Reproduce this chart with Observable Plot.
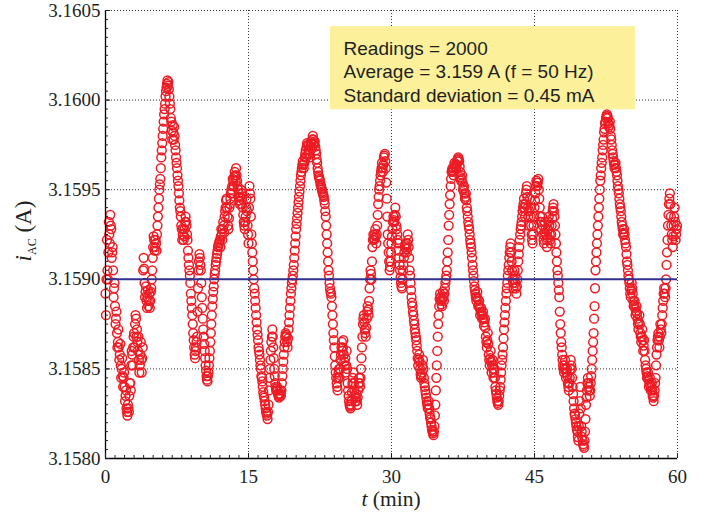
<!DOCTYPE html>
<html><head><meta charset="utf-8">
<script src="https://cdn.jsdelivr.net/npm/d3@7"></script>
<script src="https://cdn.jsdelivr.net/npm/@observablehq/plot@0.6"></script>
<style>body{margin:0;background:#fff} svg{display:block}</style>
</head><body><div id="chart"></div>
<script>
// Readings (A).
// currentA: readings at t = 0.0, 0.1, 0.2 ... min; currentB: readings at t = 0.05, 0.15, 0.25 ... min
const sampleStep = 0.1;
const currentA = [
3.15892,3.15900,3.15905,3.15915,3.15925,3.15936,3.15928,3.15915,3.15905,3.15895,
3.15885,3.15878,3.15870,3.15865,3.15862,3.15858,3.15852,3.15850,3.15846,3.15845,
3.15840,3.15835,3.15828,3.15824,3.15828,3.15835,3.15842,3.15852,3.15858,3.15862,
3.15870,3.15875,3.15878,3.15872,3.15860,3.15855,3.15852,3.15865,3.15848,3.15862,
3.15912,3.15898,3.15893,3.15888,3.15890,3.15885,3.15892,3.15888,3.15895,3.15905,
3.15918,3.15922,3.15918,3.15920,3.15925,3.15935,3.15945,3.15953,3.15962,3.15972,
3.15980,3.15988,3.15995,3.16002,3.16007,3.16011,3.16010,3.16002,3.15995,3.15988,
3.15978,3.15982,3.15985,3.15975,3.15968,3.15962,3.15955,3.15948,3.15940,3.15935,
3.15928,3.15925,3.15922,3.15928,3.15935,3.15930,3.15922,3.15912,3.15905,3.15898,
3.15888,3.15880,3.15870,3.15862,3.15856,3.15862,3.15868,3.15895,3.15910,3.15912,
3.15905,3.15890,3.15878,3.15868,3.15860,3.15852,3.15846,3.15843,3.15848,3.15856,
3.15865,3.15875,3.15885,3.15893,3.15900,3.15905,3.15910,3.15914,3.15918,3.15920,
3.15922,3.15924,3.15925,3.15928,3.15930,3.15935,3.15940,3.15945,3.15935,3.15928,
3.15940,3.15945,3.15950,3.15952,3.15955,3.15957,3.15958,3.15962,3.15955,3.15950,
3.15948,3.15942,3.15950,3.15945,3.15940,3.15932,3.15928,3.15935,3.15945,3.15930,
3.15920,3.15952,3.15945,3.15925,3.15915,3.15905,3.15895,3.15888,3.15880,3.15872,
3.15866,3.15860,3.15855,3.15850,3.15845,3.15840,3.15835,3.15832,3.15828,3.15825,
3.15822,3.15830,3.15845,3.15855,3.15865,3.15872,3.15862,3.15850,3.15842,3.15838,
3.15840,3.15836,3.15834,3.15838,3.15835,3.15842,3.15850,3.15858,3.15865,3.15870,
3.15868,3.15862,3.15872,3.15880,3.15888,3.15895,3.15900,3.15905,3.15912,3.15920,
3.15928,3.15934,3.15940,3.15946,3.15952,3.15958,3.15962,3.15966,3.15962,3.15968,
3.15972,3.15974,3.15975,3.15972,3.15970,3.15974,3.15976,3.15978,3.15978,3.15976,
3.15974,3.15970,3.15965,3.15960,3.15957,3.15955,3.15952,3.15950,3.15948,3.15946,
3.15942,3.15935,3.15925,3.15915,3.15905,3.15898,3.15893,3.15890,3.15880,3.15870,
3.15862,3.15852,3.15845,3.15840,3.15845,3.15850,3.15850,3.15858,3.15865,3.15862,
3.15858,3.15852,3.15848,3.15860,3.15842,3.15835,3.15830,3.15828,3.15832,3.15842,
3.15848,3.15838,3.15832,3.15836,3.15830,3.15838,3.15845,3.15840,3.15850,3.15862,
3.15875,3.15880,3.15872,3.15868,3.15878,3.15885,3.15880,3.15895,3.15905,3.15900,
3.15918,3.15925,3.15922,3.15928,3.15920,3.15930,3.15942,3.15950,3.15955,3.15960,
3.15965,3.15960,3.15968,3.15970,3.15962,3.15945,3.15925,3.15915,3.15905,3.15910,
3.15920,3.15928,3.15935,3.15932,3.15940,3.15930,3.15925,3.15920,3.15912,3.15905,
3.15898,3.15895,3.15905,3.15912,3.15918,3.15920,3.15915,3.15925,3.15918,3.15905,
3.15898,3.15890,3.15885,3.15880,3.15875,3.15870,3.15866,3.15860,3.15852,3.15858,
3.15850,3.15845,3.15848,3.15855,3.15845,3.15840,3.15836,3.15832,3.15828,3.15832,
3.15825,3.15822,3.15818,3.15815,3.15813,3.15818,3.15830,3.15845,3.15860,3.15875,
3.15885,3.15892,3.15888,3.15885,3.15893,3.15888,3.15895,3.15900,3.15905,3.15915,
3.15930,3.15942,3.15952,3.15960,3.15962,3.15958,3.15965,3.15963,3.15962,3.15966,
3.15968,3.15966,3.15960,3.15955,3.15958,3.15950,3.15952,3.15945,3.15948,3.15940,
3.15935,3.15930,3.15925,3.15920,3.15915,3.15908,3.15902,3.15896,3.15892,3.15888,
3.15893,3.15885,3.15888,3.15880,3.15884,3.15878,3.15882,3.15874,3.15878,3.15868,
3.15862,3.15870,3.15858,3.15852,3.15860,3.15848,3.15855,3.15845,3.15850,3.15840,
3.15836,3.15832,3.15830,3.15835,3.15840,3.15848,3.15855,3.15862,3.15872,3.15880,
3.15888,3.15895,3.15902,3.15908,3.15915,3.15920,3.15910,3.15900,3.15895,3.15905,
3.15898,3.15892,3.15900,3.15910,3.15918,3.15925,3.15930,3.15935,3.15940,3.15945,
3.15935,3.15948,3.15952,3.15940,3.15930,3.15945,3.15935,3.15925,3.15920,3.15930,
3.15940,3.15948,3.15955,3.15952,3.15956,3.15945,3.15935,3.15928,3.15935,3.15925,
3.15920,3.15932,3.15925,3.15918,3.15928,3.15935,3.15925,3.15920,3.15930,3.15938,
3.15942,3.15935,3.15925,3.15915,3.15905,3.15898,3.15890,3.15875,3.15865,3.15858,
3.15852,3.15848,3.15855,3.15845,3.15850,3.15842,3.15838,3.15845,3.15855,3.15850,
3.15840,3.15832,3.15825,3.15822,3.15818,3.15815,3.15810,3.15825,3.15840,3.15818,
3.15812,3.15808,3.15806,3.15815,3.15830,3.15838,3.15845,3.15840,3.15835,3.15842,
3.15850,3.15860,3.15870,3.15885,3.15905,3.15915,3.15925,3.15935,3.15945,3.15955,
3.15962,3.15968,3.15975,3.15982,3.15987,3.15990,3.15992,3.15990,3.15985,3.15988,
3.15980,3.15975,3.15970,3.15966,3.15962,3.15965,3.15960,3.15955,3.15950,3.15945,
3.15940,3.15935,3.15930,3.15925,3.15928,3.15922,3.15918,3.15910,3.15905,3.15900,
3.15895,3.15890,3.15898,3.15892,3.15885,3.15888,3.15880,3.15885,3.15878,3.15872,
3.15880,3.15870,3.15865,3.15872,3.15860,3.15866,3.15855,3.15850,3.15845,3.15848,
3.15840,3.15845,3.15838,3.15842,3.15835,3.15832,3.15838,3.15845,3.15858,3.15866,
3.15870,3.15862,3.15875,3.15870,3.15880,3.15888,3.15895,3.15890,3.15900,3.15915,
3.15930,3.15942,3.15948,3.15935,3.15925,3.15918,3.15930,3.15940,3.15922,3.15928
];
const currentB = [
3.15880,3.15922,3.15900,3.15932,3.15920,3.15930,3.15912,3.15918,3.15890,3.15898,
3.15875,3.15882,3.15862,3.15872,3.15855,3.15864,3.15845,3.15856,3.15840,3.15848,
3.15832,3.15838,3.15826,3.15830,3.15826,3.15842,3.15838,3.15860,3.15852,3.15868,
3.15862,3.15880,3.15868,3.15865,3.15868,3.15848,3.15858,3.15855,3.15856,3.15905,
3.15906,3.15890,3.15896,3.15884,3.15894,3.15888,3.15884,3.15893,3.15900,3.15912,
3.15924,3.15916,3.15922,3.15916,3.15930,3.15940,3.15950,3.15956,3.15968,3.15976,
3.15984,3.15992,3.15998,3.16005,3.16009,3.16008,3.16006,3.15998,3.15990,3.15983,
3.15986,3.15978,3.15980,3.15972,3.15965,3.15958,3.15952,3.15944,3.15938,3.15930,
3.15922,3.15928,3.15924,3.15932,3.15932,3.15925,3.15916,3.15908,3.15902,3.15892,
3.15884,3.15875,3.15866,3.15858,3.15860,3.15865,3.15882,3.15905,3.15914,3.15908,
3.15898,3.15884,3.15872,3.15864,3.15856,3.15849,3.15844,3.15846,3.15852,3.15860,
3.15870,3.15880,3.15889,3.15896,3.15903,3.15908,3.15912,3.15916,3.15919,3.15921,
3.15918,3.15928,3.15922,3.15932,3.15926,3.15938,3.15944,3.15940,3.15930,3.15934,
3.15942,3.15948,3.15948,3.15956,3.15952,3.15960,3.15955,3.15958,3.15952,3.15946,
3.15944,3.15946,3.15942,3.15948,3.15936,3.15930,3.15932,3.15940,3.15938,3.15925,
3.15940,3.15948,3.15935,3.15920,3.15910,3.15900,3.15892,3.15884,3.15876,3.15869,
3.15862,3.15858,3.15852,3.15846,3.15843,3.15837,3.15834,3.15830,3.15826,3.15824,
3.15826,3.15838,3.15850,3.15860,3.15868,3.15868,3.15856,3.15846,3.15840,3.15839,
3.15838,3.15835,3.15836,3.15836,3.15838,3.15846,3.15854,3.15862,3.15868,3.15869,
3.15865,3.15867,3.15876,3.15884,3.15892,3.15898,3.15902,3.15908,3.15916,3.15924,
3.15931,3.15937,3.15943,3.15949,3.15955,3.15960,3.15964,3.15964,3.15965,3.15970,
3.15968,3.15976,3.15970,3.15975,3.15968,3.15977,3.15973,3.15980,3.15975,3.15977,
3.15972,3.15967,3.15962,3.15958,3.15956,3.15953,3.15951,3.15949,3.15947,3.15944,
3.15938,3.15930,3.15920,3.15910,3.15902,3.15895,3.15892,3.15885,3.15875,3.15866,
3.15857,3.15848,3.15842,3.15838,3.15848,3.15845,3.15855,3.15862,3.15860,3.15866,
3.15854,3.15856,3.15852,3.15850,3.15838,3.15832,3.15829,3.15830,3.15837,3.15845,
3.15842,3.15835,3.15834,3.15832,3.15834,3.15842,3.15842,3.15845,3.15856,3.15868,
3.15878,3.15876,3.15870,3.15873,3.15882,3.15883,3.15888,3.15900,3.15903,3.15910,
3.15922,3.15923,3.15925,3.15924,3.15925,3.15936,3.15946,3.15952,3.15958,3.15962,
3.15962,3.15964,3.15969,3.15966,3.15954,3.15935,3.15920,3.15910,3.15907,3.15915,
3.15924,3.15932,3.15933,3.15936,3.15935,3.15928,3.15922,3.15916,3.15908,3.15901,
3.15896,3.15900,3.15908,3.15915,3.15919,3.15917,3.15920,3.15922,3.15912,3.15902,
3.15894,3.15887,3.15882,3.15877,3.15872,3.15868,3.15863,3.15856,3.15855,3.15854,
3.15847,3.15846,3.15852,3.15850,3.15842,3.15838,3.15834,3.15830,3.15830,3.15828,
3.15823,3.15820,3.15816,3.15814,3.15815,3.15824,3.15838,3.15852,3.15868,3.15880,
3.15889,3.15890,3.15886,3.15889,3.15890,3.15892,3.15898,3.15902,3.15910,3.15922,
3.15936,3.15947,3.15956,3.15961,3.15960,3.15962,3.15964,3.15962,3.15964,3.15967,
3.15967,3.15963,3.15957,3.15956,3.15954,3.15951,3.15948,3.15946,3.15944,3.15938,
3.15932,3.15928,3.15922,3.15918,3.15912,3.15905,3.15899,3.15894,3.15890,3.15890,
3.15889,3.15886,3.15884,3.15882,3.15881,3.15880,3.15878,3.15876,3.15873,3.15865,
3.15866,3.15864,3.15855,3.15856,3.15854,3.15852,3.15850,3.15848,3.15845,3.15838,
3.15834,3.15831,3.15832,3.15838,3.15844,3.15852,3.15858,3.15867,3.15876,3.15884,
3.15892,3.15898,3.15905,3.15912,3.15918,3.15915,3.15905,3.15898,3.15900,3.15902,
3.15895,3.15896,3.15905,3.15914,3.15922,3.15928,3.15932,3.15938,3.15942,3.15940,
3.15942,3.15950,3.15946,3.15935,3.15938,3.15940,3.15930,3.15922,3.15925,3.15935,
3.15944,3.15952,3.15954,3.15954,3.15950,3.15940,3.15932,3.15932,3.15930,3.15922,
3.15926,3.15928,3.15922,3.15923,3.15932,3.15930,3.15922,3.15925,3.15934,3.15940,
3.15938,3.15930,3.15920,3.15910,3.15902,3.15894,3.15882,3.15870,3.15862,3.15855,
3.15850,3.15852,3.15850,3.15848,3.15846,3.15840,3.15842,3.15850,3.15852,3.15845,
3.15836,3.15828,3.15824,3.15820,3.15816,3.15812,3.15818,3.15832,3.15828,3.15815,
3.15810,3.15807,3.15810,3.15822,3.15834,3.15842,3.15842,3.15838,3.15838,3.15846,
3.15855,3.15865,3.15878,3.15895,3.15910,3.15920,3.15930,3.15940,3.15950,3.15958,
3.15965,3.15972,3.15978,3.15984,3.15988,3.15991,3.15991,3.15987,3.15986,3.15984,
3.15978,3.15972,3.15968,3.15964,3.15964,3.15962,3.15958,3.15952,3.15948,3.15942,
3.15938,3.15932,3.15928,3.15926,3.15925,3.15920,3.15914,3.15908,3.15902,3.15898,
3.15892,3.15894,3.15895,3.15888,3.15886,3.15884,3.15882,3.15881,3.15875,3.15876,
3.15875,3.15868,3.15868,3.15866,3.15863,3.15860,3.15852,3.15848,3.15846,3.15844,
3.15842,3.15841,3.15840,3.15838,3.15834,3.15835,3.15842,3.15852,3.15862,3.15868,
3.15866,3.15868,3.15872,3.15875,3.15884,3.15892,3.15892,3.15895,3.15908,3.15922,
3.15936,3.15945,3.15942,3.15930,3.15922,3.15924,3.15935,3.15932,3.15925,3.15930
];
const meanCurrent = 3.1590;
const xMajorTicks = [0, 15, 30, 45, 60];
const yMajorTicks = [3.1580, 3.1585, 3.1590, 3.1595, 3.1600, 3.1605];
const boxLines = ["Readings = 2000", "Average = 3.159 A (f = 50 Hz)", "Standard deviation = 0.45 mA"];

const readings = [
  ...currentA.map((v, k) => ({t: k * sampleStep, i: v})),
  ...currentB.map((v, k) => ({t: k * sampleStep + sampleStep / 2, i: v}))
].sort((a, b) => a.t - b.t);
const xMinor = d3.range(0, 61, 1);
const yMinor = d3.range(0, 51).map(k => 3.1580 + k * 0.00005);
const gridX = xMajorTicks.slice(1);
const gridY = yMajorTicks.filter(v => v !== 3.1580 && v !== meanCurrent);

const serif = "'Liberation Serif','Times New Roman',serif";
const dotted = {stroke: "#333", strokeWidth: 1, strokeDasharray: "1,2"};

const plot = Plot.plot({
  width: 709, height: 513,
  marginLeft: 105, marginRight: 32, marginTop: 10, marginBottom: 55,
  x: {domain: [0, 60]},
  y: {domain: [3.1580, 3.1605]},
  style: {fontFamily: serif, fontSize: "19px", color: "#231f20", background: "#fff"},
  marks: [
    Plot.ruleX(gridX, dotted),
    Plot.ruleY(gridY, dotted),
    Plot.rect([0], {x1: () => 23.6, x2: () => 55.6, y1: () => 3.159946, y2: () => 3.16041, fill: "#fcf09b"}),
    Plot.text([boxLines.join("\n")], {
      x: () => 24.97, y: () => 3.160346, text: d => d,
      textAnchor: "start", lineAnchor: "top", lineHeight: 1.237,
      fontFamily: "'Liberation Sans',Arial,sans-serif", fontSize: 19, fill: "#231f20"
    }),
    Plot.dot(readings, {x: "t", y: "i", r: 4.4, stroke: "#ed1c24", strokeWidth: 1.5, fill: "none"}),
    Plot.ruleY([meanCurrent], {stroke: "#2e3192", strokeWidth: 2}),
    Plot.ruleX([0], {stroke: "#000", strokeWidth: 1.3}),
    Plot.ruleY([3.1580], {stroke: "#000", strokeWidth: 1.3}),
    Plot.axisX({ticks: xMajorTicks, tickSize: -5, tickPadding: 15.5, label: null, tickFormat: d => String(d)}),
    Plot.axisX({ticks: xMinor, tickSize: -3, tickFormat: () => "", label: null}),
    Plot.axisY({ticks: yMajorTicks, tickSize: -5, tickPadding: 10, label: null, tickFormat: d => d.toFixed(4)}),
    Plot.axisY({ticks: yMinor, tickSize: -3, tickFormat: () => "", label: null})
  ]
});
document.getElementById("chart").appendChild(plot);

const svg = d3.select(plot);
// y-axis title
const yt = svg.append("text")
  .attr("transform", "translate(31,231) rotate(-90)")
  .attr("text-anchor", "middle")
  .attr("font-family", serif).attr("fill", "#231f20").attr("font-size", 23);
yt.append("tspan").attr("font-style", "italic").text("i");
yt.append("tspan").attr("font-size", 12).attr("dy", 5).text("AC");
yt.append("tspan").attr("dy", -5).text(" (A)");
// x-axis title
const xt = svg.append("text")
  .attr("x", 391).attr("y", 506)
  .attr("text-anchor", "middle")
  .attr("font-family", serif).attr("fill", "#231f20").attr("font-size", 21.5);
xt.append("tspan").attr("font-style", "italic").text("t");
xt.append("tspan").text(" (min)");
</script>
</body></html>
